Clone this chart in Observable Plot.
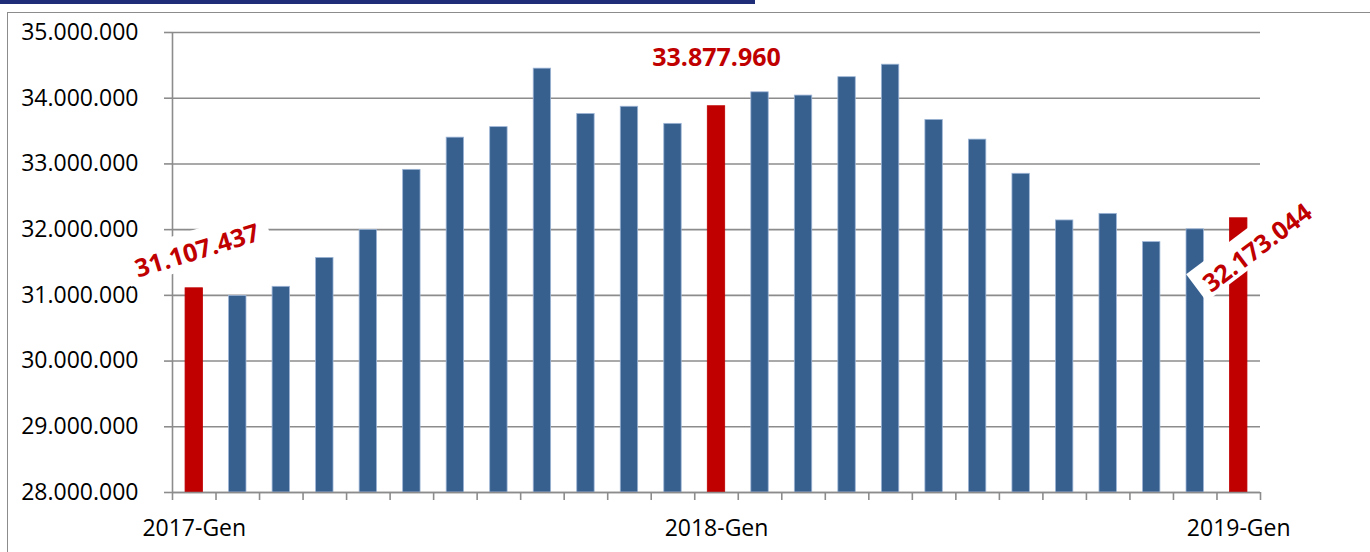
<!DOCTYPE html>
<html>
<head>
<meta charset="utf-8">
<script src="https://cdn.jsdelivr.net/npm/d3@7"></script>
<script src="https://cdn.jsdelivr.net/npm/@observablehq/plot@0.6"></script>
<style>
  html, body { margin: 0; padding: 0; background: #fff; width: 1370px; height: 552px; overflow: hidden; }
  #wrap { position: relative; width: 1370px; height: 552px; }
  #topbar { position: absolute; left: 0; top: 0; width: 755px; height: 4px; background: #1f2d78; }
  #frame { position: absolute; left: 7px; top: 12px; width: 1400px; height: 600px; border: 1.5px solid #8c8c8c; }
  #chart { position: absolute; left: 0; top: 0; }
</style>
</head>
<body>
<div id="wrap">
  <div id="topbar"></div>
  <div id="frame"></div>
  <div id="chart"></div>
</div>
<script>
// ---- data ----
const months = [
  "2017-Gen","2017-Feb","2017-Mar","2017-Apr","2017-Mag","2017-Giu","2017-Lug","2017-Ago","2017-Set","2017-Ott","2017-Nov","2017-Dic",
  "2018-Gen","2018-Feb","2018-Mar","2018-Apr","2018-Mag","2018-Giu","2018-Lug","2018-Ago","2018-Set","2018-Ott","2018-Nov","2018-Dic",
  "2019-Gen"
];
const values = [
  31107437, 30990000, 31130000, 31570000, 31995000, 32910000, 33400000, 33560000, 34450000, 33760000, 33870000, 33610000,
  33877960, 34090000, 34040000, 34320000, 34510000, 33670000, 33370000, 32850000, 32140000, 32240000, 31810000, 32005000,
  32173044
];
const highlighted = ["2017-Gen", "2018-Gen", "2019-Gen"];
const xTickLabels = ["2017-Gen", "2018-Gen", "2019-Gen"];
const yTicks = [28000000, 29000000, 30000000, 31000000, 32000000, 33000000, 34000000, 35000000];

// ---- styling (not data) ----
const BLUE = "#37608f", RED = "#c00000", GRID = "#8c8c8c";
const FONT = "'Open Sans', 'Liberation Sans', sans-serif";
const labelStyle = {
  "2017-Gen": {rotate: -17, dx: 3, dy: -37, bdx: 3, bdy: -40, w: 148, h: 36},
  "2018-Gen": {rotate: 0, dx: 0, dy: -48, bdx: 0, bdy: -48, w: 0, h: 0},
  "2019-Gen": {rotate: -37, dx: 19, dy: 30, bdx: 18, bdy: 25, w: 150, h: 34}
};

const itLocale = d3.formatLocale({decimal: ",", thousands: ".", grouping: [3], currency: ["", " €"]});
const fmt = itLocale.format(",d");

const data = months.map((m, i) => ({month: m, i, value: values[i], hi: highlighted.includes(m)}));
const yMin = yTicks[0], yMax = yTicks[yTicks.length - 1];
const barGap = 0.3;

const labelData = data.filter(d => d.hi);

const boxes = (index, scales) => {
  const g = d3.create("svg:g");
  for (const d of labelData) {
    const s = labelStyle[d.month];
    if (!s.w) continue;
    const cx = scales.x(d.i + 0.5) + s.bdx;
    const cy = scales.y(d.value) + s.bdy;
    g.append("rect")
      .attr("x", -s.w / 2).attr("y", -s.h / 2)
      .attr("width", s.w).attr("height", s.h)
      .attr("fill", "white")
      .attr("transform", `translate(${cx},${cy}) rotate(${s.rotate})`);
  }
  return g.node();
};

const labelMarks = labelData.map(d => {
  const s = labelStyle[d.month];
  return Plot.text([d], {
    x: d => d.i + 0.5, y: "value", text: d => fmt(d.value),
    rotate: s.rotate, dx: s.dx, dy: s.dy,
    textAnchor: "middle", lineAnchor: "middle",
    fill: RED, fontWeight: "bold", fontSize: 25, fontFamily: FONT
  });
});

const chart = Plot.plot({
  width: 1370,
  height: 552,
  marginLeft: 172,
  marginRight: 110,
  marginTop: 32,
  marginBottom: 60,
  style: {fontFamily: FONT, fontSize: "23px", background: "transparent", color: "black"},
  x: {type: "linear", domain: [0, months.length], label: null},
  y: {domain: [yMin, yMax], label: null},
  marks: [
    Plot.ruleY(yTicks, {stroke: GRID, strokeWidth: 1.6}),
    Plot.rectY(data, {
      x1: d => d.i + barGap, x2: d => d.i + 1 - barGap,
      y1: yMin, y2: "value",
      fill: d => d.hi ? RED : BLUE,
      stroke: d => d.hi ? RED : "#9db5d6", strokeWidth: 0.8
    }),
    Plot.ruleX([0], {stroke: GRID, strokeWidth: 1.6}),
    Plot.ruleY([yMin], {stroke: GRID, strokeWidth: 1.6}),
    Plot.axisY({
      ticks: yTicks, tickSize: 8, tickPadding: 26, label: null,
      tickFormat: fmt, stroke: GRID, strokeWidth: 1.6, fill: "black", fontSize: 23
    }),
    Plot.axisX({
      ticks: d3.range(0, months.length + 1), tickSize: 8, label: null,
      tickFormat: () => "", stroke: GRID, strokeWidth: 1.6
    }),
    Plot.axisX({
      ticks: xTickLabels.map(m => months.indexOf(m) + 0.5), tickSize: 0, tickPadding: 27, label: null,
      tickFormat: v => months[Math.round(v - 0.5)], fill: "black", fontSize: 23
    }),
    boxes,
    ...labelMarks
  ]
});
document.getElementById("chart").appendChild(chart);
</script>
</body>
</html>
